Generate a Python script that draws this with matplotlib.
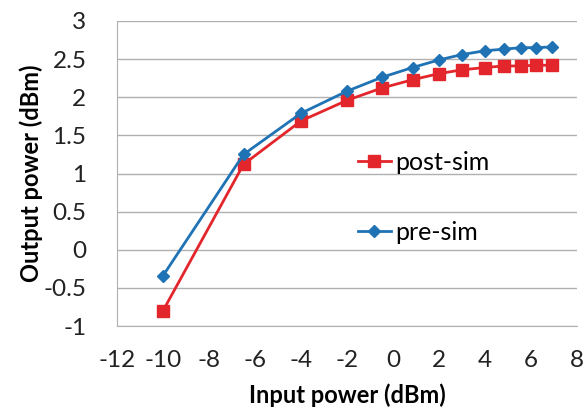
import numpy as np
from matplotlib import pyplot as plt
import matplotlib

matplotlib.rc("font", family=["Lato", "DejaVu Sans"])

# data
input_power = [-10, -6.5, -4, -2, -0.5, 0.85, 2, 3, 4, 4.8, 5.55, 6.2, 6.9]
post_sim = [-0.80, 1.12, 1.69, 1.96, 2.12, 2.23, 2.31, 2.36, 2.39, 2.41, 2.41, 2.42, 2.42]
pre_sim = [-0.34, 1.25, 1.79, 2.08, 2.26, 2.39, 2.49, 2.56, 2.61, 2.63, 2.65, 2.65, 2.66]

x_ticks = np.arange(-12, 9, 2)
y_ticks = np.arange(-1, 3.01, 0.5)

fig = plt.figure(figsize=(5.84, 4.18), dpi=100)
ax = fig.add_axes([0.2003, 0.22, 0.788, 0.7298])

ax.plot(input_power, post_sim, color="#e3262b", marker="s", markersize=8.5,
        linewidth=2, label="post-sim", zorder=3)
ax.plot(input_power, pre_sim, color="#1f73b5", marker="D", markersize=6.5,
        linewidth=2, label="pre-sim", zorder=4)

ax.set_xlim(-12, 8)
ax.set_ylim(-1, 3)
ax.set_xticks(x_ticks)
ax.set_yticks(y_ticks)
ax.set_xticklabels([str(v) for v in x_ticks])
ax.set_yticklabels(["%g" % v for v in y_ticks])
ax.tick_params(length=0, labelsize=17.5, colors="#222222")
ax.tick_params(axis="x", pad=17)
ax.tick_params(axis="y", pad=22)

ax.grid(axis="y", color="#b0b0b0", linewidth=1)
ax.set_axisbelow(True)
for side in ["top", "right"]:
    ax.spines[side].set_visible(False)
for side in ["left", "bottom"]:
    ax.spines[side].set_color("#b0b0b0")

ax.set_xlabel("Input power (dBm)", fontsize=17, fontweight="bold", labelpad=9)
ax.set_ylabel("Output power (dBm)", fontsize=17, fontweight="bold", labelpad=0)

ax.legend(loc="upper left", bbox_to_anchor=(0.524, 0.575), frameon=False,
          fontsize=18, labelspacing=1.9, handlelength=1.3, handletextpad=0.2,
          borderpad=0, borderaxespad=0)

plt.savefig("out.png", dpi=100)
